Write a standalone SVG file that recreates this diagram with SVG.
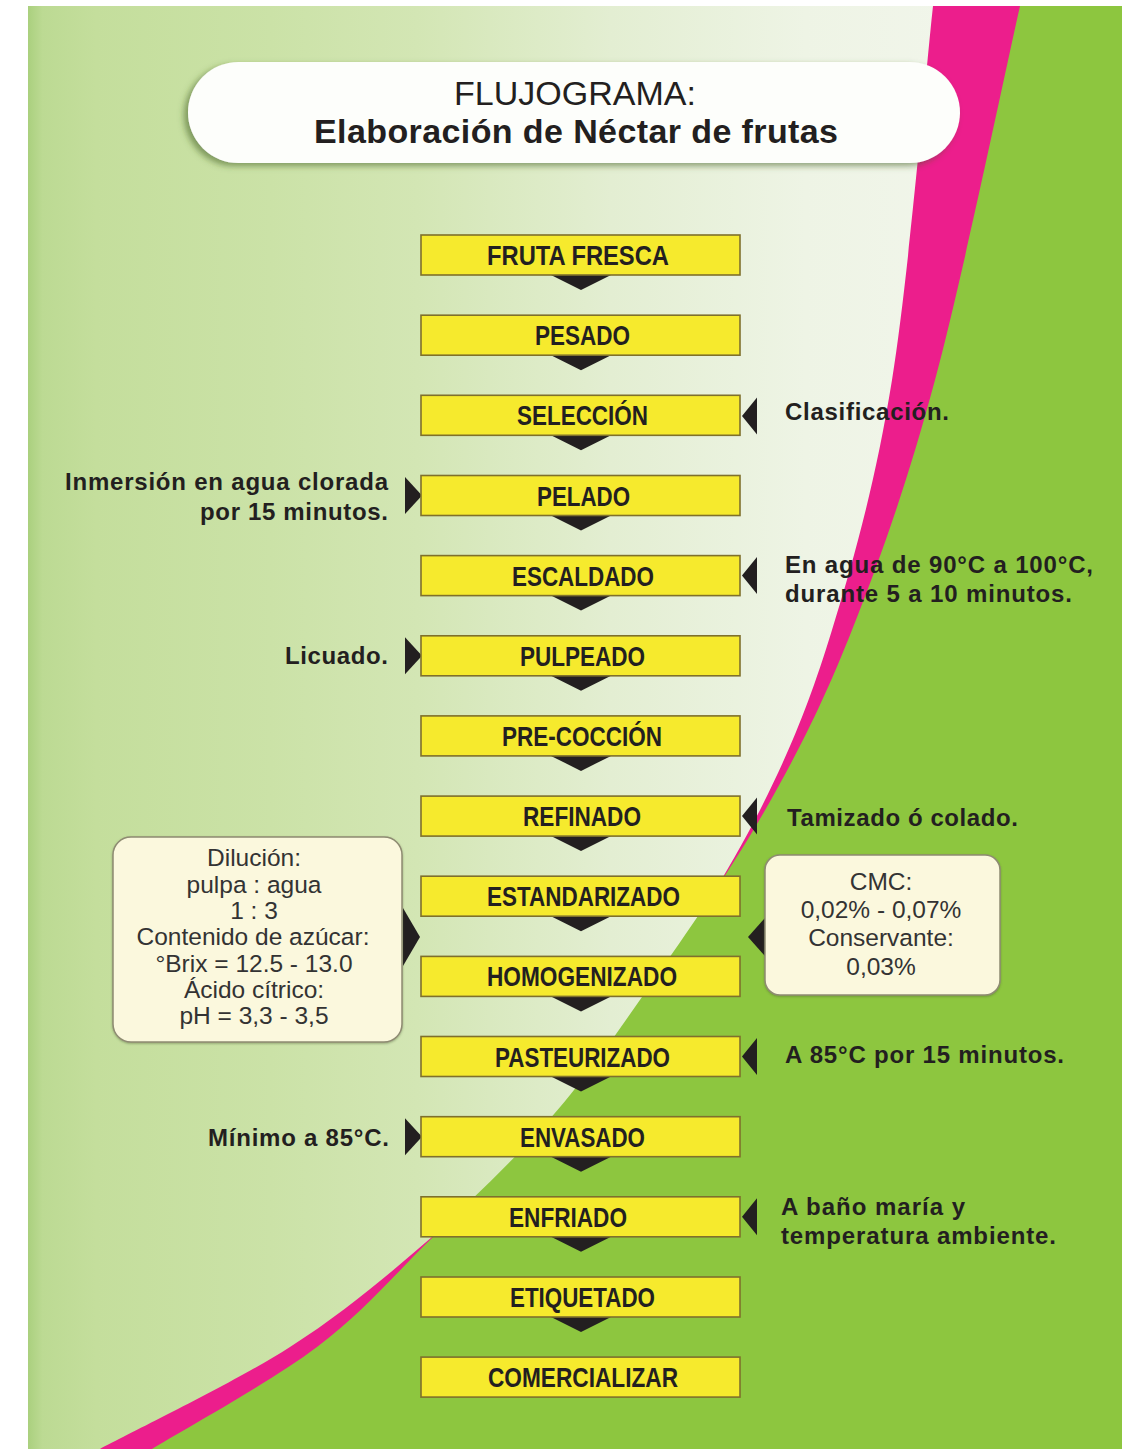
<svg xmlns="http://www.w3.org/2000/svg" width="1125" height="1449" viewBox="0 0 1125 1449">
<defs>
<linearGradient id="bg" gradientUnits="userSpaceOnUse" x1="28" y1="0" x2="1000" y2="0">
<stop offset="0" stop-color="#aad07e"/>
<stop offset="0.015" stop-color="#bcda93"/>
<stop offset="0.07" stop-color="#c4de9c"/>
<stop offset="0.25" stop-color="#cbe2a7"/>
<stop offset="0.4" stop-color="#d3e6b4"/>
<stop offset="0.6" stop-color="#e3eed2"/>
<stop offset="0.8" stop-color="#eef4e5"/>
<stop offset="1" stop-color="#f2f6ec"/>
</linearGradient>
<filter id="sh" x="-5%" y="-20%" width="110%" height="150%">
<feDropShadow dx="-4" dy="3" stdDeviation="3" flood-color="#3d5c1e" flood-opacity="0.55"/>
</filter>
<filter id="sh2" x="-5%" y="-5%" width="110%" height="110%">
<feDropShadow dx="0" dy="1" stdDeviation="1.2" flood-color="#4a5a30" flood-opacity="0.45"/>
</filter>
<clipPath id="clip"><rect x="28" y="6" width="1094" height="1443"/></clipPath>
<path id="dn" d="M-30 0H30L0 15Z"/>
<path id="lt" d="M0 0L15 -18.5V18.5Z"/>
<path id="rt" d="M0 0L-17 -18.5V18.5Z"/>
</defs>
<style>
.box{fill:#f6ea2d;stroke:#7f702c;stroke-width:1.6}
.lbl{font-family:"Liberation Sans",Arial,sans-serif;font-weight:bold;font-size:28px;fill:#231f20;text-anchor:middle}
.ann{font-family:"Liberation Sans",Arial,sans-serif;font-weight:bold;font-size:24px;fill:#231f20}
.end{text-anchor:end}
.note{fill:#fbf8dd;stroke:#8e8b72;stroke-width:1.5}
.nt{font-family:"Liberation Sans",Arial,sans-serif;font-size:24.5px;fill:#333333;text-anchor:middle}
.arr{fill:#231f20}
</style>
<rect x="0" y="0" width="1125" height="1449" fill="#ffffff"/>
<g id="background" clip-path="url(#clip)">
<rect x="28" y="6" width="1094" height="1443" fill="url(#bg)"/>
<path fill="#ec1e8c" d="M933 6C926.2 68.3 908.8 276 892 380C875.2 484 854 558.3 832 630C810 701.7 790.8 748.8 760 810C729.2 871.2 681.5 945.3 647 997C612.5 1048.7 588.8 1080 553 1120C517.2 1160 475.8 1199.2 432 1237C388.2 1274.8 345.3 1311.7 290 1347C234.7 1382.3 131.7 1432 100 1449L60 1470H1130V0Z"/>
<path fill="#8dc63f" d="M1020 6C1005.8 68.3 963 276 935 380C907 484 880.5 558 852 630C823.5 702 799 750.8 764 812C729 873.2 677.8 945.7 642 997C606.2 1048.3 584 1079.8 549 1120C514 1160.2 470.7 1200.2 432 1238C393.3 1275.8 363.7 1311.8 317 1347C270.3 1382.2 179.5 1432 152 1449L120 1470H1130V0Z"/>
</g>
<g id="title">
<rect x="188" y="62" width="772" height="101" rx="50.5" fill="#fdfefb" filter="url(#sh)"/>
<text x="575" y="105" font-family="'Liberation Sans',Arial,sans-serif" font-size="34" fill="#231f20" text-anchor="middle">FLUJOGRAMA:</text>
<text x="576" y="143" font-family="'Liberation Sans',Arial,sans-serif" font-size="34" font-weight="bold" fill="#231f20" text-anchor="middle" textLength="524">Elaboración de Néctar de frutas</text>
</g>
<g id="connectors" class="arr">
<use href="#dn" x="581" y="275"/>
<use href="#dn" x="581" y="355.2"/>
<use href="#dn" x="581" y="435.3"/>
<use href="#dn" x="581" y="515.5"/>
<use href="#dn" x="581" y="595.6"/>
<use href="#dn" x="581" y="675.8"/>
<use href="#dn" x="581" y="755.9"/>
<use href="#dn" x="581" y="836.1"/>
<use href="#dn" x="581" y="916.2"/>
<use href="#dn" x="581" y="996.4"/>
<use href="#dn" x="581" y="1076.5"/>
<use href="#dn" x="581" y="1156.7"/>
<use href="#dn" x="581" y="1236.8"/>
<use href="#dn" x="581" y="1317"/>
<use href="#lt" x="742" y="416"/>
<use href="#rt" x="422" y="495.5"/>
<use href="#lt" x="742" y="575.6"/>
<use href="#rt" x="422" y="655.8"/>
<use href="#lt" x="742" y="816"/>
<polygon points="403,908 420,937 403,966"/>
<polygon points="765,918 748,937 765,956"/>
<use href="#lt" x="742" y="1056.5"/>
<use href="#rt" x="422" y="1136.7"/>
<use href="#lt" x="742" y="1216.8"/>
</g>
<g id="n-fruta-fresca"><rect class="box" x="421" y="235" width="319" height="40"/><text class="lbl" x="578" y="265" textLength="182" lengthAdjust="spacingAndGlyphs">FRUTA FRESCA</text></g>
<g id="n-pesado"><rect class="box" x="421" y="315.2" width="319" height="40"/><text class="lbl" x="582.5" y="345.2" textLength="95" lengthAdjust="spacingAndGlyphs">PESADO</text></g>
<g id="n-seleccion"><rect class="box" x="421" y="395.3" width="319" height="40"/><text class="lbl" x="582.5" y="425.3" textLength="131" lengthAdjust="spacingAndGlyphs">SELECCIÓN</text></g>
<g id="n-pelado"><rect class="box" x="421" y="475.5" width="319" height="40"/><text class="lbl" x="583.5" y="505.5" textLength="93" lengthAdjust="spacingAndGlyphs">PELADO</text></g>
<g id="n-escaldado"><rect class="box" x="421" y="555.6" width="319" height="40"/><text class="lbl" x="583" y="585.6" textLength="142" lengthAdjust="spacingAndGlyphs">ESCALDADO</text></g>
<g id="n-pulpeado"><rect class="box" x="421" y="635.8" width="319" height="40"/><text class="lbl" x="582.5" y="665.8" textLength="125" lengthAdjust="spacingAndGlyphs">PULPEADO</text></g>
<g id="n-precoccion"><rect class="box" x="421" y="715.9" width="319" height="40"/><text class="lbl" x="582" y="745.9" textLength="160" lengthAdjust="spacingAndGlyphs">PRE-COCCIÓN</text></g>
<g id="n-refinado"><rect class="box" x="421" y="796.1" width="319" height="40"/><text class="lbl" x="582" y="826.1" textLength="118" lengthAdjust="spacingAndGlyphs">REFINADO</text></g>
<g id="n-estandarizado"><rect class="box" x="421" y="876.2" width="319" height="40"/><text class="lbl" x="583.5" y="906.2" textLength="193" lengthAdjust="spacingAndGlyphs">ESTANDARIZADO</text></g>
<g id="n-homogenizado"><rect class="box" x="421" y="956.4" width="319" height="40"/><text class="lbl" x="582" y="986.4" textLength="190" lengthAdjust="spacingAndGlyphs">HOMOGENIZADO</text></g>
<g id="n-pasteurizado"><rect class="box" x="421" y="1036.5" width="319" height="40"/><text class="lbl" x="582.5" y="1066.5" textLength="175" lengthAdjust="spacingAndGlyphs">PASTEURIZADO</text></g>
<g id="n-envasado"><rect class="box" x="421" y="1116.7" width="319" height="40"/><text class="lbl" x="582.5" y="1146.7" textLength="125" lengthAdjust="spacingAndGlyphs">ENVASADO</text></g>
<g id="n-enfriado"><rect class="box" x="421" y="1196.8" width="319" height="40"/><text class="lbl" x="568" y="1226.8" textLength="118" lengthAdjust="spacingAndGlyphs">ENFRIADO</text></g>
<g id="n-etiquetado"><rect class="box" x="421" y="1277" width="319" height="40"/><text class="lbl" x="582.5" y="1307" textLength="145" lengthAdjust="spacingAndGlyphs">ETIQUETADO</text></g>
<g id="n-comercializar"><rect class="box" x="421" y="1357.1" width="319" height="40"/><text class="lbl" x="583" y="1387.1" textLength="190" lengthAdjust="spacingAndGlyphs">COMERCIALIZAR</text></g>
<g id="note-left">
<rect class="note" x="113" y="837" width="289" height="205" rx="18" filter="url(#sh2)"/>
<text class="nt" x="254" y="866">Dilución:</text>
<text class="nt" x="254" y="893">pulpa : agua</text>
<text class="nt" x="254" y="919">1 : 3</text>
<text class="nt" x="253" y="945">Contenido de azúcar:</text>
<text class="nt" x="254" y="972">°Brix = 12.5 - 13.0</text>
<text class="nt" x="254" y="998">Ácido cítrico:</text>
<text class="nt" x="254" y="1024">pH = 3,3 - 3,5</text>
</g>
<g id="note-right">
<rect class="note" x="765" y="855" width="235" height="140" rx="15" filter="url(#sh2)"/>
<text class="nt" x="881" y="890">CMC:</text>
<text class="nt" x="881" y="918">0,02% - 0,07%</text>
<text class="nt" x="881" y="946">Conservante:</text>
<text class="nt" x="881" y="975">0,03%</text>
</g>
<g id="annotations">
<text class="ann end" x="388" y="490" textLength="323">Inmersión en agua clorada</text>
<text class="ann end" x="388" y="520" textLength="188">por 15 minutos.</text>
<text class="ann end" x="388" y="664" textLength="103">Licuado.</text>
<text class="ann end" x="389" y="1146" textLength="181">Mínimo a 85°C.</text>
<text class="ann" x="785" y="420" textLength="164">Clasificación.</text>
<text class="ann" x="785" y="573" textLength="308">En agua de 90°C a 100°C,</text>
<text class="ann" x="785" y="602" textLength="287">durante 5 a 10 minutos.</text>
<text class="ann" x="787" y="826" textLength="231">Tamizado ó colado.</text>
<text class="ann" x="785" y="1063" textLength="279">A 85°C por 15 minutos.</text>
<text class="ann" x="781" y="1215" textLength="184">A baño maría y</text>
<text class="ann" x="781" y="1244" textLength="275">temperatura ambiente.</text>
</g>
</svg>
